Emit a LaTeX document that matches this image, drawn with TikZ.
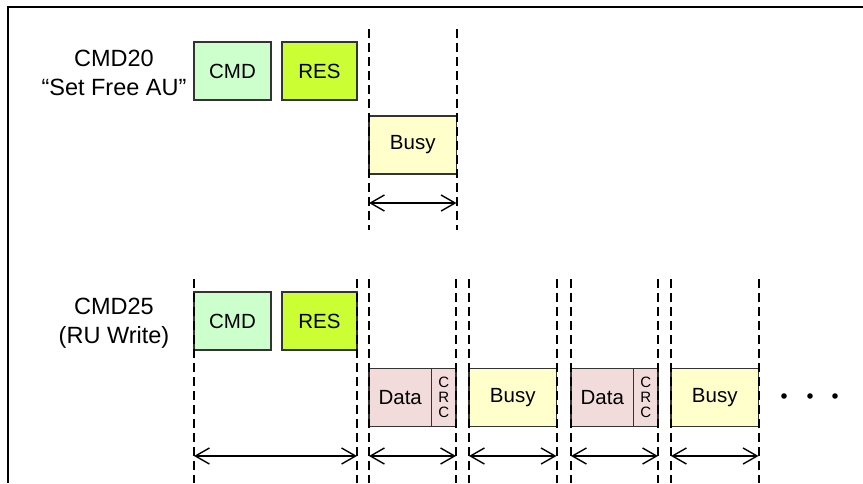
\documentclass[tikz,border=0pt]{standalone}
\usepackage{fontspec}
\setmainfont{Liberation Sans}
\usetikzlibrary{arrows.meta,positioning}
\definecolor{cmdgreen}{HTML}{CCFFCC}
\definecolor{resgreen}{HTML}{CCFF33}
\definecolor{busyyellow}{HTML}{FFFFCC}
\definecolor{datapink}{HTML}{F2DCDB}

\begin{document}
\begin{tikzpicture}[x=1pt, y=-1pt,
  field/.style={draw=black!80, line width=1.1pt, inner sep=0pt, outer sep=0pt, minimum height=58pt, font=\fontsize{20.5}{24}\selectfont},
  cmdbox/.style={field, fill=cmdgreen, minimum width=77pt},
  resbox/.style={field, fill=resgreen, minimum width=75pt},
  busybox/.style={field, fill=busyyellow, minimum width=87.5pt},
  databox/.style={field, fill=datapink, minimum width=62.5pt},
  crcbox/.style={field, fill=datapink, minimum width=24.5pt, align=center, font=\fontsize{15}{15}\selectfont},
  cmdlabel/.style={align=center, font=\fontsize{23.5}{29.5}\selectfont},
  guide/.style={dash pattern=on 9pt off 5pt, line width=2pt},
  span/.style={{Straight Barb[length=14pt,width=16pt,line width=1.4pt]}-{Straight Barb[length=14pt,width=16pt,line width=1.4pt]}, line width=1.4pt}
]
\useasboundingbox (0,0) rectangle (863,483);
\draw[line width=1.8pt] (8,483) -- (8,7) -- (863,7);

% CMD20
\node[cmdlabel] (lblA) at (114,73) {CMD20\\“Set Free AU”};
\node[cmdbox] (cmdA) at (232.5,71) {CMD};
\node[resbox] (resA) at (319.5,71) {RES};
\node[busybox] (busyA) at (412.75,145) {Busy};

\coordinate (topA) at (0,29);
\coordinate (botA) at (0,230);
\coordinate (spanA) at (0,203);
\draw[guide] (busyA.west |- topA) -- (busyA.west |- botA);
\draw[guide] (busyA.east |- topA) -- (busyA.east |- botA);
\draw[span] (busyA.west |- spanA) -- (busyA.east |- spanA);

% CMD25
\node[cmdlabel] (lblB) at (114,323) {CMD25\\(RU Write)};
\node[cmdbox] (cmdB) at (232.5,321) {CMD};
\node[resbox] (resB) at (319.5,321) {RES};
\node[databox] (data1) at (400.25,397.5) {Data};
\node[crcbox, right=0pt of data1] (crc1) {C\\R\\C};
\node[busybox] (busy1) at (512.75,397.5) {Busy};
\node[databox] (data2) at (602.25,397.5) {Data};
\node[crcbox, right=0pt of data2] (crc2) {C\\R\\C};
\node[busybox] (busy2) at (714.75,397.5) {Busy};

\fill (784,396) circle[radius=2.8pt];
\fill (810,396) circle[radius=2.8pt];
\fill (835,396) circle[radius=2.8pt];

\coordinate (topB) at (0,279);
\coordinate (botB) at (0,483);
\coordinate (spanB) at (0,456);
\draw[guide] (cmdB.west |- topB) -- (cmdB.west |- botB);
\draw[guide] (resB.east |- topB) -- (resB.east |- botB);
\draw[guide] (data1.west |- topB) -- (data1.west |- botB);
\draw[guide] (crc1.east |- topB) -- (crc1.east |- botB);
\draw[guide] (busy1.west |- topB) -- (busy1.west |- botB);
\draw[guide] (busy1.east |- topB) -- (busy1.east |- botB);
\draw[guide] (data2.west |- topB) -- (data2.west |- botB);
\draw[guide] (crc2.east |- topB) -- (crc2.east |- botB);
\draw[guide] (busy2.west |- topB) -- (busy2.west |- botB);
\draw[guide] (busy2.east |- topB) -- (busy2.east |- botB);

\draw[span] (cmdB.west |- spanB) -- (resB.east |- spanB);
\draw[span] (data1.west |- spanB) -- (crc1.east |- spanB);
\draw[span] (busy1.west |- spanB) -- (busy1.east |- spanB);
\draw[span] (data2.west |- spanB) -- (crc2.east |- spanB);
\draw[span] (busy2.west |- spanB) -- (busy2.east |- spanB);
\end{tikzpicture}
\end{document}
